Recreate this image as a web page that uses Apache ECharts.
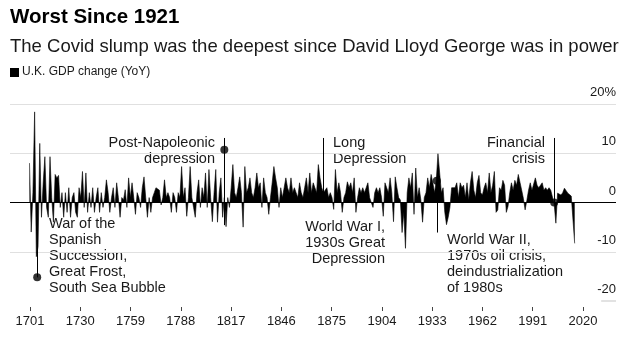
<!DOCTYPE html>
<html>
<head>
<meta charset="utf-8">
<script src="https://cdn.jsdelivr.net/npm/echarts@6/dist/echarts.min.js"></script>
<style>
html,body{margin:0;padding:0;background:#fff;}
#chart{width:644px;height:337px;}
</style>
</head>
<body>
<div id="chart"></div>
<script>
// ---- data ----
const startYear = 1701;
const gdpChange = [
  // 1701-1710
  8, -6, 2, 18.4, -11, -9, 12, -3, 4, 9.3,
  // 1711-1720
  -1, -3, 9.3, 1, -4, 5.7, 5, 5.5, -1, 2,
  // 1721-1730
  -3, 2, -2, 3, -3, 1, 2, -2, -3, 3,
  // 1731-1740
  1, 6.3, -1, 6, -2, 2, -1, 3, -2, 1,
  // 1741-1750
  3, -2, 2, -1, 1, 4.6, 2, -2, 1, 3,
  // 1751-1760
  -1, 4, 1, -3, 1, 0.5, 2.6, -1, 5, 1,
  // 1761-1770
  4, 1, -2.4, 2, 1, -1, 3, 5.2, 1, -3,
  // 1771-1780
  1, -2, 1, 2, 3, 3.3, 2.5, -0.5, 1, 4.6,
  // 1781-1790
  1, 2, 1, -2, 2, 1, -2, 2, 1, 7.3,
  // 1791-1800
  1, 3, -2.8, 1, 7.3, 1, -1, -3, 2, 4.6,
  // 1801-1810
  -1, 3, 1, 6, -1, 6.7, 1, -3.9, 2, 6.7,
  // 1811-1820
  -4, 2, 5, -3, 1, -4.9, 1, -1, 3, 7.7,
  // 1821-1830
  2, 1, 3, 5.2, 2, -5, 7.3, 2, 3, 5,
  // 1831-1840
  2, 1, 3, 6, 3, 4, -1, 5, 2, 1,
  // 1841-1850
  -2.4, 1, 4, 7.3, 5, 3, -1, 3, 1, 3,
  // 1851-1860
  5, 3, 2, 5, 2, 3, 2, 1, 4, 2,
  // 1861-1870
  1, 3, 5, 2, 6, 2, 4, 3, 2, 7.7,
  // 1871-1880
  5, 3, 2, 2, 3, 1, 2, 1, -1.4, 6.7,
  // 1881-1890
  2, 4, 2, -2, 1, 2, 4.2, 3, 4, 2,
  // 1891-1900
  5, -2, 1, 3, 2, 3, 2, 3, 4, 1,
  // 1901-1910
  1, -1, 2, 3, 2, 3, 1, -2.8, 4, 3,
  // 1911-1920
  2, 5, 2, -3.9, 5.2, 3, 1, 0.5, -6.1, -2,
  // 1921-1930
  -9.3, 2, 5, 3, 6, -2.4, 7, 1, 3, 0.5,
  // 1931-1940
  -4, 1, 2, 5, 3, 5.7, 4, 2, 4.4, 9.9,
  // 1941-1950
  6, 2, 3, -2, -4.5, -3, -1, 3, 3.2, 3,
  // 1951-1960
  4, 1, 4, 3, 3.5, 1, 4, 0.5, 4, 6.3,
  // 1961-1970
  2.5, 1, 4, 5.5, 2, 1.5, 3, 4, 2, 6,
  // 1971-1980
  2, 3.5, 6.3, -2, -1.5, 3, 2.5, 4.5, 3.5, -2,
  // 1981-1990
  -0.8, 2, 4, 2.5, 4.5, 3.5, 5.7, 5.5, 2.5, 0.8,
  // 1991-2000
  -1.5, 0.4, 2.5, 4, 2.5, 2.5, 5, 3.5, 3, 3.5,
  // 2001-2010
  4, 2.5, 3, 2.5, 3, 2.5, 2.5, -0.3, -4.2, 1.9,
  // 2011-2020
  1.5, 1.5, 2, 2.9, 2.4, 1.9, 1.9, 1.3, 1.4, -8.3
];
const tickYears = [1701, 1730, 1759, 1788, 1817, 1846, 1875, 1904, 1933, 1962, 1991, 2020];
const yTicks = [-20, -10, 0, 10, 20];

// annotations: [year, lineFrom, lineTo, dotValue or null]
const annoLines = [
  [1705.5, 0, -15.2, -15.2],
  [1815, 13.1, -4.6, 10.7],
  [1873, 13.1, 0, null],
  [1939.3, 4.4, -6.1, 4.4],
  [2008, 13.1, 0, 0]
];

const seriesData = gdpChange.map((v, i) => [startYear + i, v]);

const chart = echarts.init(document.getElementById('chart'), null, {renderer: 'canvas'});
const FONT = 'Liberation Sans, Arial, sans-serif';
const txt = '#1a1a1a';
const DATA_MIN = 1689.59, DATA_MAX = 2044.18;

const markLineData = annoLines.map(a => [
  {coord: [a[0], a[1]]}, {coord: [a[0], a[2]]}
]);
const dots = annoLines.filter(a => a[3] !== null).map(a => [a[0], a[3]]);

function label(x, y, lines, align) {
  return {
    type: 'text', x: x, y: y,
    style: {text: lines.join('\n'), font: '14.5px ' + FONT, fill: txt, lineHeight: 16,
            align: align, verticalAlign: 'top'}
  };
}

chart.setOption({
  animation: false,
  grid: {left: 10, right: 28, top: 104, bottom: 36},
  xAxis: [
    {
      type: 'value', min: 1689.46, max: 2039.04,
      position: 'bottom', offset: 6,
      axisLine: {show: false, onZero: false},
      axisTick: {show: true, length: 4, lineStyle: {color: '#444'}, customValues: tickYears},
      axisLabel: {customValues: tickYears, fontSize: 13, color: txt, fontFamily: FONT, margin: 8,
                  formatter: v => String(v)},
      splitLine: {show: false}
    },
    {
      type: 'value', min: DATA_MIN, max: DATA_MAX,
      show: false, axisLine: {onZero: false}, splitLine: {show: false}
    }
  ],
  yAxis: {
    type: 'value', min: -20, max: 20, interval: 10,
    position: 'right',
    axisLine: {show: false}, axisTick: {show: false},
    axisLabel: {
      inside: true, margin: 0, verticalAlign: 'bottom', padding: [0, 0, 5, 0],
      fontSize: 13, color: txt, fontFamily: FONT,
      formatter: v => v === 20 ? '20%' : String(v)
    },
    splitLine: {lineStyle: {color: ['rgba(0,0,0,0)', '#e0e0e0', '#e0e0e0', '#e0e0e0', '#e0e0e0'], width: 1}}
  },
  series: [
    {
      type: 'line', xAxisIndex: 1, data: seriesData,
      symbol: 'none', lineStyle: {color: '#000', width: 0.6},
      areaStyle: {color: '#000', opacity: 1, origin: 0},
      markLine: {
        silent: true, symbol: 'none', animation: false,
        label: {show: false},
        lineStyle: {color: '#000', width: 1, type: 'solid'},
        data: [[{coord: [DATA_MIN, 0]}, {coord: [DATA_MAX, 0]}],
               [{coord: [2035.5, -20], lineStyle: {color: '#d8d8d8', width: 1.5}}, {coord: [DATA_MAX, -20]}]
              ].concat(markLineData)
      },
      z: 2
    },
    {
      type: 'scatter', xAxisIndex: 1, data: dots,
      symbol: 'circle', symbolSize: 8, itemStyle: {color: '#000'}, z: 5, silent: true
    }
  ],
  graphic: [
    {type: 'text', left: 10, top: 7, style: {text: 'Worst Since 1921', font: 'bold 20.5px ' + FONT, fill: '#000'}},
    {type: 'text', left: 10, top: 37, style: {text: 'The Covid slump was the deepest since David Lloyd George was in power', font: '18.5px ' + FONT, fill: txt}},
    {type: 'rect', left: 10, top: 68, shape: {width: 9, height: 9}, style: {fill: '#000'}},
    {type: 'text', left: 22, top: 66, style: {text: 'U.K. GDP change (YoY)', font: '12px ' + FONT, fill: txt}},
    label(49, 216, ['War of the', 'Spanish', 'Succession,', 'Great Frost,', 'South Sea Bubble'], 'left'),
    label(215, 135, ['Post-Napoleonic', 'depression'], 'right'),
    label(333, 135, ['Long', 'Depression'], 'left'),
    label(385, 219, ['World War I,', '1930s Great', 'Depression'], 'right'),
    label(447, 232, ['World War II,', '1970s oil crisis,', 'deindustrialization', 'of 1980s'], 'left'),
    label(545, 135, ['Financial', 'crisis'], 'right')
  ]
});
</script>
</body>
</html>
